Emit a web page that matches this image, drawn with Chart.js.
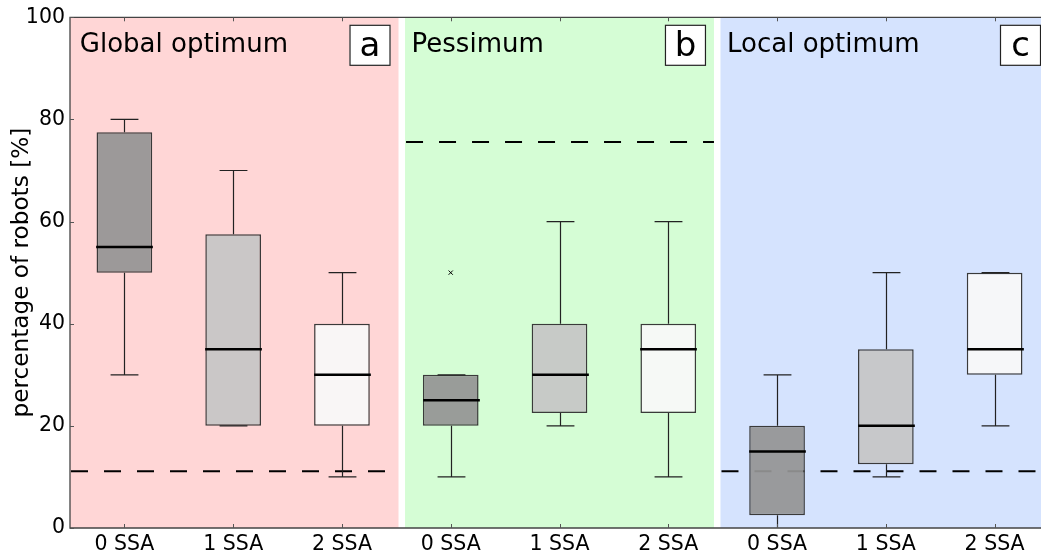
<!DOCTYPE html>
<html><head><meta charset="utf-8">
<script src="https://cdn.jsdelivr.net/npm/chart.js@4"></script>
<style>
html,body{margin:0;padding:0;overflow:hidden;background:#fff;width:1041px;height:556px}
#wrap{position:absolute;left:0;top:0;width:1054px;height:556px}
canvas{display:block}
</style>
</head><body><div id="wrap"><canvas id="c" width="1054" height="556"></canvas></div>
<script>
// ---- data ----
const categories = ['0 SSA','1 SSA','2 SSA','0 SSA','1 SSA','2 SSA','0 SSA','1 SSA','2 SSA'];
const whiskerLow  = [30, 20, 10, 10, 20,   10, 0,   10,   20];
const quartile1   = [50, 20, 20, 20, 22.5, 22.5, 2.5, 12.5, 30];
const medians     = [55, 35, 30, 25, 30,   35, 15,  20,   35];
const quartile3   = [77.5, 57.5, 40, 30, 40, 40, 20, 35, 50];
const whiskerHigh = [80, 70, 50, 30, 60,   60, 30,  50,   50];
const outliers    = [null, null, null, 50, null, null, null, null, null];
const panelTitles = ['Global optimum', 'Pessimum', 'Local optimum'];
const panelLetters = ['a', 'b', 'c'];
const referenceLevels = [11.1, 75.6, 11.1];
const yTickValues = [0, 20, 40, 60, 80, 100];

// ---- layout / style ----
const panelSpans = [[-0.5, 2.52], [2.58, 5.42], [5.48, 8.5]];
const titleX = [-0.41, 2.64, 5.54];
const panelColors = ['#ffd6d6', '#d5fdd5', '#d5e3fe'];
const boxShades = ['rgba(148,148,148,0.93)', 'rgba(198,198,198,0.93)', 'rgba(249,249,249,0.93)'];
const FONT = '"DejaVu Sans", "Liberation Sans", sans-serif';

const panelPlugin = {
  id: 'panels',
  beforeDatasetsDraw(chart) {
    const {ctx, chartArea: a, scales: {x, y}} = chart;
    ctx.save();
    panelSpans.forEach((s, i) => {
      const x0 = x.getPixelForValue(s[0]), x1 = x.getPixelForValue(s[1]);
      ctx.fillStyle = panelColors[i];
      ctx.fillRect(x0, a.top, x1 - x0, a.bottom - a.top);
    });
    ctx.strokeStyle = '#000';
    ctx.lineWidth = 2;
    ctx.setLineDash([17, 16]);
    panelSpans.forEach((s, i) => {
      const x0 = x.getPixelForValue(s[0]), x1 = x.getPixelForValue(s[1]);
      const yy = y.getPixelForValue(referenceLevels[i]);
      ctx.beginPath(); ctx.moveTo(x0 + 1, yy); ctx.lineTo(x1, yy); ctx.stroke();
    });
    ctx.restore();
  },
  afterDatasetsDraw(chart) {
    const {ctx, chartArea: a, scales: {x, y}} = chart;
    const meta = chart.getDatasetMeta(0);
    ctx.save();
    categories.forEach((c, i) => {
      const cx = Math.round(x.getPixelForValue(i)) + 0.5;
      const w = meta.data[i].width;
      ctx.strokeStyle = '#222';
      ctx.lineWidth = 1.2;
      ctx.beginPath();
      ctx.moveTo(cx, y.getPixelForValue(quartile3[i])); ctx.lineTo(cx, y.getPixelForValue(whiskerHigh[i]));
      ctx.moveTo(cx, y.getPixelForValue(quartile1[i])); ctx.lineTo(cx, y.getPixelForValue(whiskerLow[i]));
      const yh = y.getPixelForValue(whiskerHigh[i]), yl = y.getPixelForValue(whiskerLow[i]);
      ctx.moveTo(cx - w / 4, yh); ctx.lineTo(cx + w / 4, yh);
      if (whiskerLow[i] > 0) { ctx.moveTo(cx - w / 4, yl); ctx.lineTo(cx + w / 4, yl); }
      ctx.stroke();
      const ym = y.getPixelForValue(medians[i]);
      ctx.strokeStyle = '#000';
      ctx.lineWidth = 2.5;
      ctx.beginPath(); ctx.moveTo(cx - w / 2 - 0.5, ym); ctx.lineTo(cx + w / 2 + 0.5, ym); ctx.stroke();
    });
    ctx.strokeStyle = '#444';
    ctx.lineWidth = 1.3;
    ctx.beginPath();
    ctx.rect(a.left, a.top, a.right - a.left, a.bottom - a.top);
    ctx.stroke();
    ctx.lineWidth = 1;
    ctx.strokeStyle = '#555';
    ctx.beginPath();
    categories.forEach((c, i) => {
      const cx = Math.round(x.getPixelForValue(i)) + 0.5;
      ctx.moveTo(cx, a.bottom); ctx.lineTo(cx, a.bottom - 4);
      ctx.moveTo(cx, a.top); ctx.lineTo(cx, a.top + 4);
    });
    yTickValues.forEach(v => {
      const yy = Math.round(y.getPixelForValue(v)) + 0.5;
      ctx.moveTo(a.left, yy); ctx.lineTo(a.left + 4, yy);
    });
    ctx.stroke();
    ctx.fillStyle = '#000';
    ctx.textBaseline = 'alphabetic';
    panelTitles.forEach((t, i) => {
      ctx.font = '26px ' + FONT;
      ctx.textAlign = 'left';
      ctx.fillText(t, x.getPixelForValue(titleX[i]), a.top + 35);
      const right = x.getPixelForValue(panelSpans[i][1]) - 8;
      const bx = right - 41, by = a.top + 7.5;
      ctx.fillStyle = '#fff';
      ctx.fillRect(bx, by, 41, 41);
      ctx.strokeStyle = '#222';
      ctx.lineWidth = 1.2;
      ctx.strokeRect(bx + 0.5, by + 0.5, 40, 40);
      ctx.fillStyle = '#000';
      ctx.font = '34px ' + FONT;
      ctx.textAlign = 'center';
      ctx.fillText(panelLetters[i], bx + 20.5, by + 31.5);
    });
    ctx.restore();
  }
};

new Chart(document.getElementById('c').getContext('2d'), {
  type: 'bar',
  data: {
    labels: categories,
    datasets: [
      {
        type: 'bar',
        data: quartile1.map((q, i) => [q, quartile3[i]]),
        backgroundColor: categories.map((c, i) => boxShades[i % 3]),
        borderColor: '#3a3a3a',
        borderWidth: 1.5,
        borderSkipped: false,
        barPercentage: 0.512,
        categoryPercentage: 1,
        order: 2
      },
      {
        type: 'line',
        data: outliers,
        showLine: false,
        pointStyle: 'crossRot',
        pointRadius: 3,
        borderColor: '#000',
        borderWidth: 1,
        order: 1
      }
    ]
  },
  options: {
    responsive: false,
    animation: false,
    devicePixelRatio: 1,
    layout: {padding: {top: 17, left: 0, right: 0, bottom: 0}},
    plugins: {legend: {display: false}, tooltip: {enabled: false}},
    scales: {
      x: {
        type: 'category',
        offset: true,
        grid: {display: false, drawTicks: false},
        border: {display: false},
        ticks: {font: {family: FONT, size: 20.5}, color: '#000', padding: 4, maxRotation: 0, autoSkip: false},
        afterFit(s) { s.height = 28; }
      },
      y: {
        min: 0, max: 100,
        afterBuildTicks(s) { s.ticks = yTickValues.map(v => ({value: v})); },
        grid: {display: false, drawTicks: false},
        border: {display: false},
        ticks: {font: {family: FONT, size: 20.5}, color: '#000', padding: 5},
        title: {display: true, text: 'percentage of robots [%]', font: {family: FONT, size: 23.2}, color: '#000', padding: {top: 8, bottom: 0}},
        afterFit(s) { s.width = 70; }
      }
    }
  },
  plugins: [panelPlugin]
});
</script>
</body></html>
